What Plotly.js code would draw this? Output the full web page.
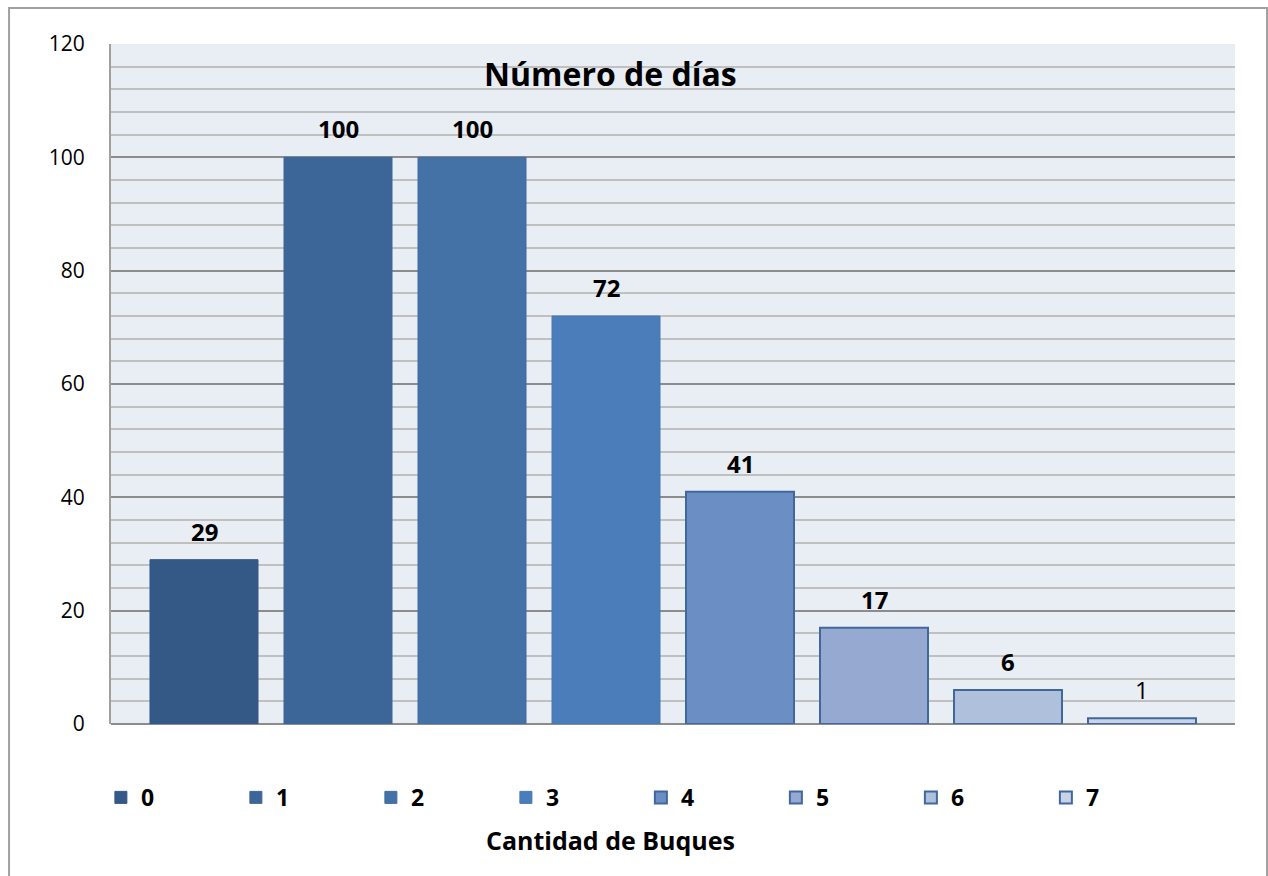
<!DOCTYPE html>
<html>
<head>
<meta charset="utf-8">
<script src="https://cdn.plot.ly/plotly-3.0.1.min.js"></script>
<style>
  html, body { margin: 0; padding: 0; background: #ffffff; }
  #chart { width: 1268px; height: 876px; }
</style>
</head>
<body>
<div id="chart"></div>
<script>
const categories = [0, 1, 2, 3, 4, 5, 6, 7];
const dias = [29, 100, 100, 72, 41, 17, 6, 1];
const boldLabel = [true, true, true, true, true, true, true, false];
const fillColors = ['#355987', '#3d6698', '#4472a7', '#4a7dba', '#6b8fc4', '#95a9d1', '#afc0dc', '#c9d3e7'];
const lineColors = ['#355987', '#3d6698', '#3f6ca0', '#4678b3', '#41689c', '#41689c', '#41689c', '#41689c'];
const yTicks = [0, 20, 40, 60, 80, 100, 120];

const FONT = 'Open Sans, Noto Sans, DejaVu Sans, sans-serif';

const traces = categories.map((c, i) => ({
  type: 'bar',
  name: String(c),
  x: [c],
  y: [dias[i]],
  width: 0.806,
  marker: { color: fillColors[i], line: { color: lineColors[i], width: i >= 4 ? 2 : 1 } },
  hoverinfo: 'y'
}));

const annotations = categories.map((c, i) => ({
  x: c, y: dias[i], xref: 'x', yref: 'y',
  text: boldLabel[i] ? '<b>' + dias[i] + '</b>' : String(dias[i]),
  showarrow: false, yanchor: 'bottom', yshift: 10,
  font: { family: FONT, size: 24, color: '#000000' }
}));

annotations.push({
  x: 0.4448, y: 0.957, xref: 'paper', yref: 'paper',
  text: '<b>Número de días</b>', showarrow: false,
  xanchor: 'center', yanchor: 'middle',
  font: { family: FONT, size: 32, color: '#000000' }
});
annotations.push({
  x: 0.4448, y: -0.1706, xref: 'paper', yref: 'paper',
  text: '<b>Cantidad de Buques</b>', showarrow: false,
  xanchor: 'center', yanchor: 'middle',
  font: { family: FONT, size: 25, color: '#000000' }
});

const layout = {
  width: 1268, height: 876,
  margin: { l: 111, r: 33, t: 44, b: 152 },
  paper_bgcolor: '#ffffff',
  plot_bgcolor: '#e9edf4',
  barmode: 'overlay',
  showlegend: true,
  legend: {
    orientation: 'h',
    x: -0.009, xanchor: 'left',
    y: -0.108, yanchor: 'middle',
    entrywidth: 90, entrywidthmode: 'pixels',
    itemwidth: 30,
    traceorder: 'normal',
    font: { family: FONT, size: 23, color: '#000000', weight: 'bold' },
    bgcolor: 'rgba(0,0,0,0)'
  },
  xaxis: {
    range: [-0.694, 7.694],
    showticklabels: false,
    showgrid: false,
    zeroline: false,
    ticks: '',
    showline: false,
    fixedrange: true
  },
  yaxis: {
    range: [0, 120],
    tickvals: yTicks,
    ticktext: yTicks.map(String),
    showgrid: true,
    gridcolor: '#8c8c8c',
    gridwidth: 2,
    minor: { dtick: 4, showgrid: true, gridcolor: '#c0c0c0', gridwidth: 2, ticks: '' },
    zeroline: true,
    zerolinecolor: '#8c8c8c',
    zerolinewidth: 2,
    showline: true,
    linecolor: '#a0a0a0',
    linewidth: 2,
    ticks: '',
    ticklabelstandoff: 20,
    tickfont: { family: FONT, size: 21, color: '#000000' },
    fixedrange: true
  },
  annotations: annotations,
  shapes: [{
    type: 'rect', xref: 'paper', yref: 'paper',
    x0: -0.0907, x1: 1.0285, y0: -0.3, y1: 1.0529,
    line: { color: '#a0a0a0', width: 2 },
    fillcolor: 'rgba(0,0,0,0)', layer: 'above'
  }]
};

Plotly.newPlot('chart', traces, layout, { displayModeBar: false, staticPlot: true });
</script>
</body>
</html>
